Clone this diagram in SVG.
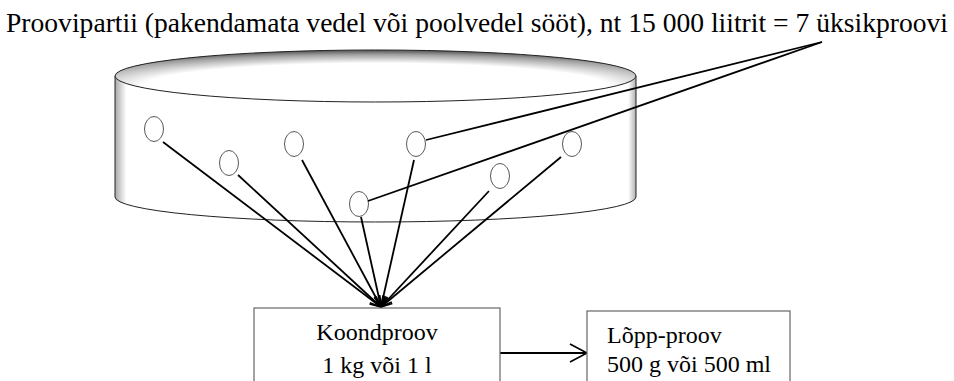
<svg xmlns="http://www.w3.org/2000/svg" width="954" height="381" viewBox="0 0 954 381">
  <style>
    .txt { font-family: "Liberation Serif", "DejaVu Serif", serif; fill: #000; }
    .sample { fill: #fff; stroke: #444; stroke-width: 0.9; }
    .link { stroke: #000; stroke-width: 1.8; fill: none; }
    .box { fill: #fff; stroke: #666; stroke-width: 1.2; }
  </style>
  <defs>
    <linearGradient id="bodyShade" x1="0" y1="0" x2="1" y2="0">
      <stop offset="0" stop-color="#a8a8a8"/>
      <stop offset="0.022" stop-color="#ffffff"/>
      <stop offset="0.985" stop-color="#ffffff"/>
      <stop offset="1" stop-color="#b0b0b0"/>
    </linearGradient>
    <radialGradient id="lidShade" cx="0.5" cy="0.7" r="0.72">
      <stop offset="0.62" stop-color="#ffffff"/>
      <stop offset="0.85" stop-color="#a0a0a0"/>
      <stop offset="1" stop-color="#404040"/>
    </radialGradient>
    <marker id="tipSmall" markerUnits="userSpaceOnUse" markerWidth="14" markerHeight="12" refX="12" refY="6" orient="auto">
      <path d="M1,1.5 L12,6 L1,10.5" fill="none" stroke="#000" stroke-width="1.6"/>
    </marker>
    <marker id="tipOpen" markerUnits="userSpaceOnUse" markerWidth="20" markerHeight="20" refX="18" refY="10" orient="auto">
      <path d="M1,1 L18,10 L1,19" fill="none" stroke="#000" stroke-width="1.6"/>
    </marker>
  </defs>

  <rect width="954" height="381" fill="#fff"/>

  <text class="txt" x="6" y="32" font-size="27" textLength="942" lengthAdjust="spacingAndGlyphs">Proovipartii (pakendamata vedel või poolvedel sööt), nt 15 000 liitrit = 7 üksikproovi</text>

  <!-- container drum -->
  <g id="drum">
    <path d="M115,76 L115,197 A260.5,25 0 0 0 636,197 L636,76 Z" fill="url(#bodyShade)" stroke="#222" stroke-width="1"/>
    <ellipse cx="375.5" cy="76" rx="260.5" ry="26" fill="url(#lidShade)" stroke="#222" stroke-width="1"/>
  </g>

  <!-- individual sampling points -->
  <g id="samples">
    <ellipse class="sample" cx="154" cy="129" rx="9.5" ry="12.5"/>
    <ellipse class="sample" cx="229" cy="163" rx="9.5" ry="12.5"/>
    <ellipse class="sample" cx="294" cy="144" rx="9.5" ry="12.5"/>
    <ellipse class="sample" cx="416" cy="144" rx="9.5" ry="12.5"/>
    <ellipse class="sample" cx="359" cy="204" rx="9.5" ry="12.5"/>
    <ellipse class="sample" cx="500" cy="176" rx="9.5" ry="12.5"/>
    <ellipse class="sample" cx="572" cy="144" rx="9.5" ry="12.5"/>
  </g>

  <g id="connectors">
    <line class="link" x1="163" y1="142" x2="381" y2="307" marker-end="url(#tipSmall)"/>
    <line class="link" x1="238" y1="175" x2="381" y2="307" marker-end="url(#tipSmall)"/>
    <line class="link" x1="302" y1="160" x2="381" y2="307" marker-end="url(#tipSmall)"/>
    <line class="link" x1="414" y1="160" x2="381" y2="307" marker-end="url(#tipSmall)"/>
    <line class="link" x1="361" y1="217" x2="381" y2="307" marker-end="url(#tipSmall)"/>
    <line class="link" x1="489" y1="191" x2="381" y2="307" marker-end="url(#tipSmall)"/>
    <line class="link" x1="561" y1="157" x2="381" y2="307" marker-end="url(#tipSmall)"/>
    <line class="link" x1="426" y1="140" x2="822" y2="42"/>
    <line class="link" x1="368" y1="201" x2="822" y2="42"/>
    <line class="link" x1="500" y1="353" x2="587" y2="353" marker-end="url(#tipOpen)"/>
  </g>

  <g id="composite">
    <rect class="box" x="254" y="308" width="246" height="100"/>
    <text class="txt" x="377" y="340" font-size="24" text-anchor="middle">Koondproov</text>
    <text class="txt" x="377" y="373" font-size="24" text-anchor="middle">1 kg või 1 l</text>
  </g>

  <g id="final">
    <rect class="box" x="587" y="311" width="203" height="100"/>
    <text class="txt" x="607" y="343" font-size="24">Lõpp-proov</text>
    <text class="txt" x="607" y="372" font-size="24">500 g või 500 ml</text>
  </g>
</svg>
